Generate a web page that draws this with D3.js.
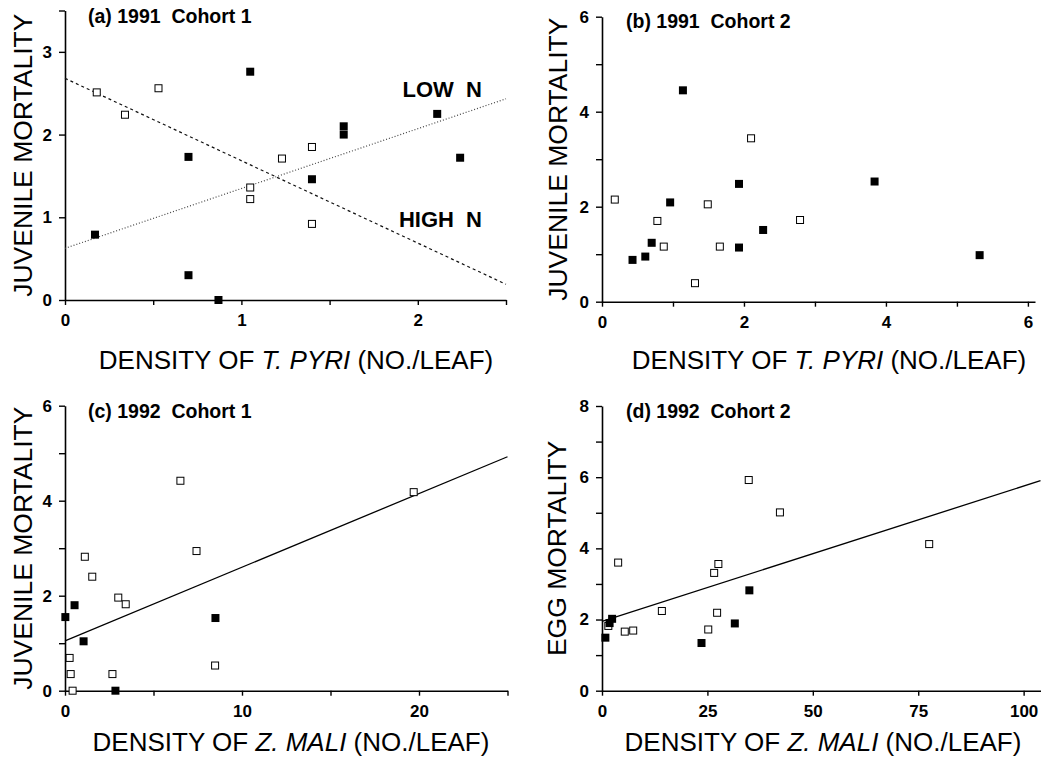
<!DOCTYPE html>
<html><head><meta charset="utf-8">
<script src="https://cdn.jsdelivr.net/npm/d3@7"></script>
<style>
html,body{margin:0;padding:0;background:#fff;}
text{font-family:"Liberation Sans",Arial,Helvetica,sans-serif;}
</style></head>
<body><svg id="c" width="1050" height="757"></svg>
<script>
// ---------- data ----------
// (a) 1991 Cohort 1 : x = T. pyri density, y = juvenile mortality
const aOpenX = [0.18, 0.34, 0.53, 1.05, 1.05, 1.23, 1.40, 1.40];
const aOpenY = [2.51, 2.24, 2.56, 1.36, 1.22, 1.71, 1.85, 0.92];
const aFillX = [0.17, 0.70, 0.70, 0.87, 1.05, 1.40, 1.58, 1.58, 2.11, 2.24];
const aFillY = [0.79, 1.73, 0.30, 0.00, 2.76, 1.46, 2.10, 2.00, 2.25, 1.72];
const aLowN = {intercept: 0.625, slope: 0.723};   // dotted
const aHighN = {intercept: 2.68, slope: -0.996};  // dashed

// (b) 1991 Cohort 2
const bOpenX = [0.18, 0.78, 0.87, 1.31, 1.49, 1.66, 2.10, 2.79];
const bOpenY = [2.15, 1.70, 1.16, 0.39, 2.05, 1.16, 3.44, 1.72];
const bFillX = [0.43, 0.61, 0.70, 0.96, 1.14, 1.93, 1.93, 2.27, 3.84, 5.32];
const bFillY = [0.88, 0.95, 1.24, 2.09, 4.45, 2.48, 1.14, 1.51, 2.53, 0.98];

// (c) 1992 Cohort 1 : x = Z. mali density
const cOpenX = [0.26, 0.32, 0.43, 1.12, 1.54, 2.68, 3.01, 3.43, 6.52, 7.43, 8.48, 19.7];
const cOpenY = [0.69, 0.35, 0.00, 2.82, 2.40, 0.35, 1.96, 1.82, 4.42, 2.94, 0.53, 4.18];
const cFillX = [0.02, 0.54, 1.05, 2.85, 8.50];
const cFillY = [1.55, 1.80, 1.04, 0.00, 1.53];
const cFit = {intercept: 1.05, slope: 0.155};

// (d) 1992 Cohort 2 : y = egg mortality
const dOpenX = [1.5, 3.83, 5.4, 7.4, 14.2, 25.2, 26.6, 27.6, 27.3, 34.8, 42.2, 77.6];
const dOpenY = [1.82, 3.60, 1.66, 1.69, 2.24, 1.72, 3.31, 3.56, 2.19, 5.92, 5.01, 4.12];
const dFillX = [0.8, 1.8, 2.4, 23.6, 31.5, 34.95];
const dFillY = [1.49, 1.90, 2.02, 1.34, 1.89, 2.82];
const dFit = {intercept: 1.95, slope: 0.038};

// axis ticks / labels
const aXTicks = [0, 0.5, 1, 1.5, 2, 2.5], aXLabels = [0, 1, 2];
const aYTicks = [0, 1, 2, 3, 3.5], aYLabels = [0, 1, 2, 3];
const bXTicks = [0, 1, 2, 3, 4, 5, 6], bXLabels = [0, 2, 4, 6];
const bYTicks = [0, 1, 2, 3, 4, 5, 6], bYLabels = [0, 2, 4, 6];
const cXTicks = [0, 5, 10, 15, 20, 25], cXLabels = [0, 10, 20];
const cYTicks = [0, 1, 2, 3, 4, 5, 6], cYLabels = [0, 2, 4, 6];
const dXTicks = [0, 25, 50, 75, 100], dXLabels = [0, 25, 50, 75, 100];
const dYTicks = [0, 1, 2, 3, 4, 5, 6, 7, 8], dYLabels = [0, 2, 4, 6, 8];

const titles = ["(a) 1991  Cohort 1", "(b) 1991  Cohort 2", "(c) 1992  Cohort 1", "(d) 1992  Cohort 2"];
const yTitles = ["JUVENILE MORTALITY", "JUVENILE MORTALITY", "JUVENILE MORTALITY", "EGG MORTALITY"];
const xSpecies = ["T. PYRI", "T. PYRI", "Z. MALI", "Z. MALI"];

// ---------- drawing ----------
const svg = d3.select("#c");

const panels = [
  {x0:65, x1:506, xd:[0,2.5], y0:300, y1:10.5, yd:[0,3.5], xt:aXTicks, xl:aXLabels, yt:aYTicks, yl:aYLabels,
   open:[aOpenX,aOpenY], fill:[aFillX,aFillY], title:titles[0], tx:88, ty:23, ytitle:yTitles[0], ytx:22, xsp:xSpecies[0], xtx:296, xty:369},
  {x0:602, x1:1035, xd:[0,6.1], y0:301.7, y1:16.7, yd:[0,6], xt:bXTicks, xl:bXLabels, yt:bYTicks, yl:bYLabels,
   open:[bOpenX,bOpenY], fill:[bFillX,bFillY], title:titles[1], tx:626, ty:28, ytitle:yTitles[1], ytx:557, xsp:xSpecies[1], xtx:829, xty:369},
  {x0:65, x1:507.5, xd:[0,25], y0:690.7, y1:405.7, yd:[0,6], xt:cXTicks, xl:cXLabels, yt:cYTicks, yl:cYLabels,
   open:[cOpenX,cOpenY], fill:[cFillX,cFillY], title:titles[2], tx:88, ty:418, ytitle:yTitles[2], ytx:22, xsp:xSpecies[2], xtx:291, xty:751, fit:cFit},
  {x0:602, x1:1040.5, xd:[0,104], y0:690.7, y1:406, yd:[0,8], xt:dXTicks, xl:dXLabels, yt:dYTicks, yl:dYLabels,
   open:[dOpenX,dOpenY], fill:[dFillX,dFillY], title:titles[3], tx:626, ty:418, ytitle:yTitles[3], ytx:556, xsp:xSpecies[3], xtx:823, xty:751, fit:dFit}
];

panels.forEach((p, i) => {
  const g = svg.append("g");
  const x = d3.scaleLinear().domain(p.xd).range([p.x0, p.x1]);
  const y = d3.scaleLinear().domain(p.yd).range([p.y0, p.y1]);

  const xAxis = d3.axisBottom(x).tickValues(p.xt).tickSize(5).tickSizeOuter(0)
      .tickFormat(d => p.xl.includes(d) ? d : "");
  const yAxis = d3.axisLeft(y).tickValues(p.yt).tickSize(6).tickSizeOuter(0)
      .tickFormat(d => p.yl.includes(d) ? d : "");

  const gx = g.append("g").attr("transform", `translate(0,${p.y0})`).call(xAxis);
  const gy = g.append("g").attr("transform", `translate(${p.x0},0)`).call(yAxis);
  [gx, gy].forEach(a => {
    a.select(".domain").attr("stroke", "#000").attr("stroke-width", 1.6);
    a.selectAll(".tick line").attr("stroke", "#000").attr("stroke-width", 1.4);
    a.selectAll(".tick text").attr("fill", "#000")
      .style("font-family", '"Liberation Sans",Arial,sans-serif')
      .style("font-size", "17px").style("font-weight", "bold");
  });
  gx.selectAll(".tick text").attr("y", 14);
  gy.selectAll(".tick text").attr("x", -13);

  // fit lines
  if (i === 0) {
    const line = d3.line().x(d => x(d[0])).y(d => y(d[1]));
    const xs = [0, 2.5];
    g.append("path").attr("d", line(xs.map(v => [v, aLowN.intercept + aLowN.slope * v])))
      .attr("fill", "none").attr("stroke", "#444").attr("stroke-width", 1.2).attr("stroke-dasharray", "1,2");
    g.append("path").attr("d", line(xs.map(v => [v, aHighN.intercept + aHighN.slope * v])))
      .attr("fill", "none").attr("stroke", "#111").attr("stroke-width", 1.2).attr("stroke-dasharray", "3,3");
    g.append("text").attr("x", 482).attr("y", 96.5).attr("text-anchor", "end")
      .style("font-size", "22px").style("font-weight", "bold").style("white-space", "pre").text("LOW  N");
    g.append("text").attr("x", 482).attr("y", 226.5).attr("text-anchor", "end")
      .style("font-size", "22px").style("font-weight", "bold").style("white-space", "pre").text("HIGH  N");
  }
  if (p.fit) {
    const line = d3.line().x(d => x(d[0])).y(d => y(d[1]));
    g.append("path").attr("d", line(p.xd.map(v => [v, p.fit.intercept + p.fit.slope * v])))
      .attr("fill", "none").attr("stroke", "#000").attr("stroke-width", 1.3);
  }

  // open squares
  const os = 7;
  g.selectAll("rect.o").data(p.open[0].map((v, k) => [v, p.open[1][k]])).join("rect")
    .attr("class", "o").attr("x", d => x(d[0]) - os/2).attr("y", d => y(d[1]) - os/2)
    .attr("width", os).attr("height", os).attr("fill", "#fff").attr("stroke", "#000").attr("stroke-width", 1);
  // filled squares
  const fs = 8;
  g.selectAll("rect.f").data(p.fill[0].map((v, k) => [v, p.fill[1][k]])).join("rect")
    .attr("class", "f").attr("x", d => x(d[0]) - fs/2).attr("y", d => y(d[1]) - fs/2)
    .attr("width", fs).attr("height", fs).attr("fill", "#000");

  // panel title
  g.append("text").attr("x", p.tx).attr("y", p.ty).style("font-size", "19.5px").style("font-weight", "bold")
    .style("white-space", "pre").text(p.title);

  // y title
  const ymid = (p.y0 + p.y1) / 2;
  g.append("text").attr("transform", `translate(${p.ytx},${ymid}) rotate(-90)`)
    .attr("text-anchor", "middle").attr("dy", "0.36em").style("font-size", "26.5px").text(p.ytitle);

  // x title
  const xt = g.append("text").attr("x", p.xtx).attr("y", p.xty).attr("text-anchor", "middle").style("font-size", "26px");
  xt.append("tspan").text("DENSITY OF ");
  xt.append("tspan").style("font-style", "italic").text(p.xsp);
  xt.append("tspan").text(" (NO./LEAF)");
});
</script></body></html>
